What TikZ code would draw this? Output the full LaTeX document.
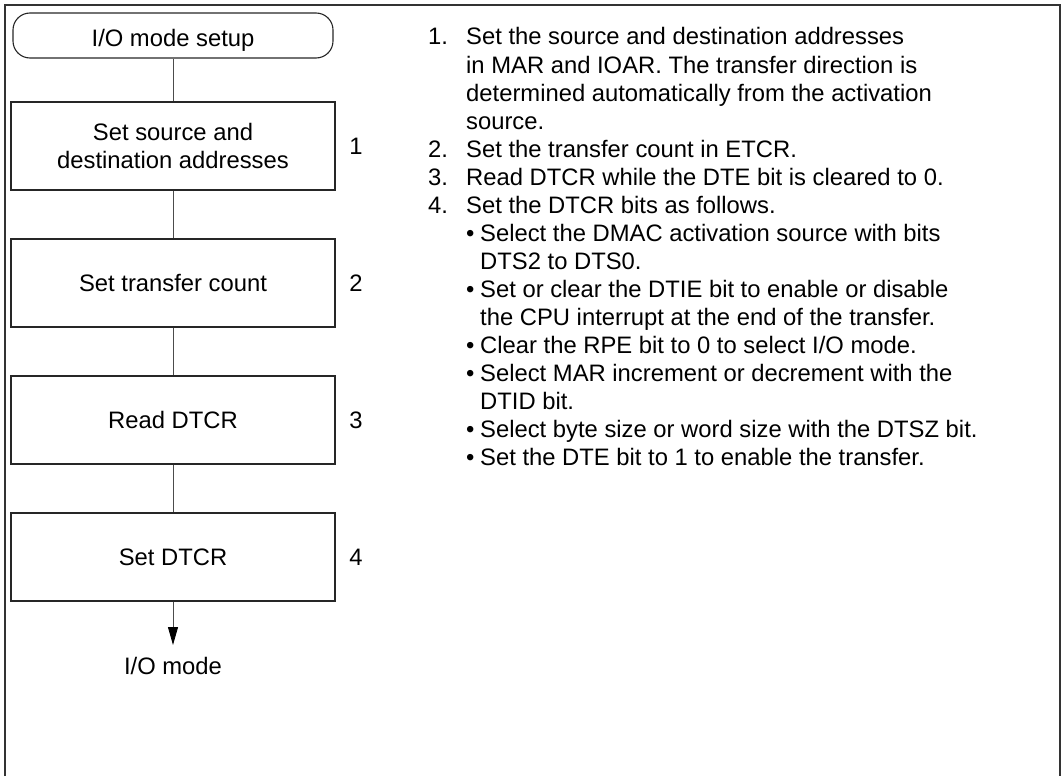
\documentclass[tikz,border=0pt]{standalone}
\usepackage{fontspec}
\setmainfont{Liberation Sans}
\usetikzlibrary{arrows.meta}
\begin{document}
\begin{tikzpicture}[x=1pt,y=-1pt,
  every node/.style={font=\fontsize{23.8pt}{28pt}\selectfont, inner sep=0pt},
  stepbox/.style={draw=black!85, line width=1.1pt, minimum width=324pt, minimum height=88pt, align=center},
  termbox/.style={draw=black!85, line width=1.1pt, rounded corners=17pt, minimum width=320pt, minimum height=45pt, text height=23pt, text depth=0pt},
  link/.style={draw=black!70, line width=0.8pt},
  numlbl/.style={anchor=center},
  txt/.style={anchor=base west}]
\useasboundingbox (0,0) rectangle (1064,776);
% frame (open at the bottom)
\draw[black!80, line width=1.4pt] (5,776) -- (5,5) -- (1060,5) -- (1060,776);
% flowchart
\node[termbox] (t0) at (173,35.5) {I/O mode setup};
\node[stepbox] (b1) at (173,146) {Set source and\\destination addresses};
\node[stepbox] (b2) at (173,283) {Set transfer count};
\node[stepbox] (b3) at (173,420) {Read DTCR};
\node[stepbox] (b4) at (173,557) {Set DTCR};
\node[numlbl] (n1) at (356,146) {1};
\node[numlbl] (n2) at (356,283) {2};
\node[numlbl] (n3) at (356,420) {3};
\node[numlbl] (n4) at (356,557) {4};
\coordinate (end) at (173,645);
\node[anchor=base] (out) at (173,674) {I/O mode};
\draw[link] (t0) -- (b1);
\draw[link] (b1) -- (b2);
\draw[link] (b2) -- (b3);
\draw[link] (b3) -- (b4);
\draw[link, -{Triangle[length=18pt,width=10pt,color=black]}] (b4) -- (end);
% notes
\foreach \nm/\yy/\t in {k1/45/{1.}, k2/157/{2.}, k3/185/{3.}, k4/213/{4.}}
  \node[txt] (\nm) at (428,\yy) {\t};
\foreach \nm/\yy/\t in {
  a1/45/{Set the source and destination addresses},
  a2/73/{in MAR and IOAR. The transfer direction is},
  a3/101/{determined automatically from the activation},
  a4/129/{source.},
  a5/157/{Set the transfer count in ETCR.},
  a6/185/{Read DTCR while the DTE bit is cleared to 0.},
  a7/213/{Set the DTCR bits as follows.}}
  \node[txt] (\nm) at (466,\yy) {\t};
\foreach \nm/\yy in {d1/241, d2/297, d3/353, d4/381, d5/437, d6/465}
  \node[txt] (\nm) at (466,\yy) {\textbullet};
\foreach \nm/\yy/\t in {
  c1/241/{Select the DMAC activation source with bits},
  c2/269/{DTS2 to DTS0.},
  c3/297/{Set or clear the DTIE bit to enable or disable},
  c4/325/{the CPU interrupt at the end of the transfer.},
  c5/353/{Clear the RPE bit to 0 to select I/O mode.},
  c6/381/{Select MAR increment or decrement with the},
  c7/409/{DTID bit.},
  c8/437/{Select byte size or word size with the DTSZ bit.},
  c9/465/{Set the DTE bit to 1 to enable the transfer.}}
  \node[txt] (\nm) at (480,\yy) {\t};
\end{tikzpicture}
\end{document}
